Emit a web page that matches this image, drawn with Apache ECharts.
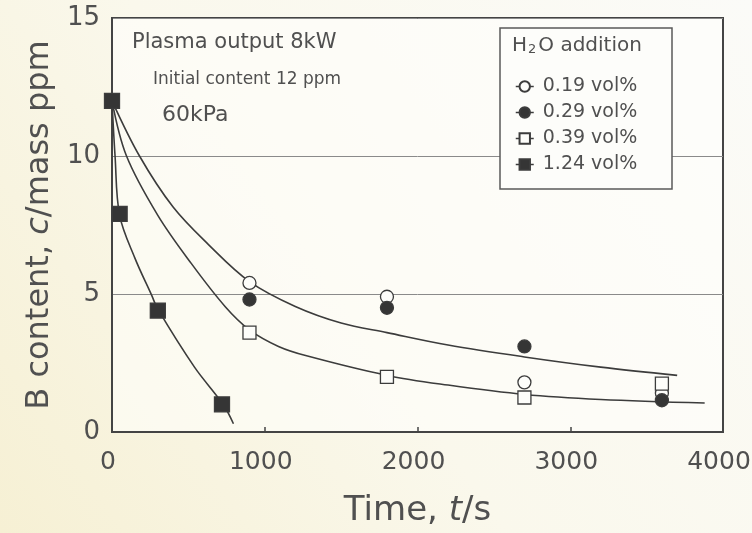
<!DOCTYPE html>
<html>
<head>
<meta charset="utf-8">
<script src="https://cdn.jsdelivr.net/npm/echarts@6/dist/echarts.min.js"></script>
<style>
  html, body { margin: 0; padding: 0; background: #fbf9f1; }
  #chart { width: 752px; height: 533px; }
</style>
</head>
<body>
<div id="chart"></div>
<script>
// Boron content (mass ppm) sampled at fixed times (s)
const sampleTimes = [0, 900, 1800, 2700, 3600];
const boron019 = [12, 5.4, 4.9, 1.8, 1.4];
const boron029 = [12, 4.8, 4.5, 3.1, 1.15];
const boron039 = [12, 3.6, 2.0, 1.25, 1.75];
// The 1.24 vol% run was sampled on its own schedule
const times124 = [0, 50, 300, 720];
const boron124 = [12, 7.9, 4.4, 1.0];

// Trend curves drawn through the data (time s / content ppm)
const slowTrendT = [0, 180, 400, 630, 900, 1200, 1500, 1800, 2200, 2700, 3200, 3700];
const slowTrendC = [12, 10, 8.15, 6.8, 5.45, 4.55, 3.95, 3.6, 3.15, 2.72, 2.35, 2.05];
const midTrendT = [0, 95, 300, 520, 740, 900, 1090, 1280, 1800, 2200, 2700, 3200, 3880];
const midTrendC = [12, 10, 7.85, 6.1, 4.55, 3.7, 3.1, 2.75, 2.05, 1.7, 1.36, 1.18, 1.05];
const fastTrendT = [0, 20, 50, 150, 260, 300, 540, 730, 795];
const fastTrendC = [12, 10, 7.85, 6.3, 4.95, 4.45, 2.35, 0.98, 0.3];

const seriesNames = ['0.19 vol%', '0.29 vol%', '0.39 vol%', '1.24 vol%'];

const FONT = 'DejaVu Sans';
const INK = '#3c3c3c';
const TEXT = '#505050';
const PAPER = '#fdfdfa';

const pairs = (xs, ys) => xs.map((x, i) => [x, ys[i]]);

function trend(xs, ys) {
  return {
    type: 'line',
    data: pairs(xs, ys),
    smooth: 0.35,
    showSymbol: false,
    silent: true,
    z: 2,
    lineStyle: { color: INK, width: 1.6 }
  };
}

function points(name, xs, ys, symbol, size, filled) {
  return {
    name: name,
    type: 'line',
    data: pairs(xs, ys),
    symbol: symbol,
    symbolSize: size,
    showSymbol: true,
    showAllSymbol: true,
    z: 4,
    lineStyle: { width: 0, opacity: 0 },
    itemStyle: {
      color: filled ? '#353535' : PAPER,
      borderColor: INK,
      borderWidth: 1.3,
      opacity: 1
    }
  };
}

const chart = echarts.init(document.getElementById('chart'), null, { renderer: 'canvas' });

chart.setOption({
  animation: false,
  backgroundColor: {
    type: 'linear', x: 0, y: 1, x2: 1, y2: 0,
    colorStops: [
      { offset: 0, color: '#f6f0d4' },
      { offset: 0.45, color: '#faf8ec' },
      { offset: 1, color: '#fbfbf8' }
    ]
  },
  textStyle: { fontFamily: FONT },
  grid: {
    left: 112, right: 29, top: 18, bottom: 101,
    outerBoundsMode: 'none',
    containLabel: false,
    show: true, borderColor: '#444', borderWidth: 2,
    backgroundColor: 'rgba(255,255,253,0.55)'
  },
  xAxis: {
    type: 'value', min: 0, max: 4000, interval: 1000,
    name: '{n|Time, }{i|t}{n|/s}',
    nameLocation: 'middle', nameGap: 62,
    nameTextStyle: {
      rich: {
        n: { fontFamily: FONT, fontSize: 34, color: TEXT },
        i: { fontFamily: FONT, fontSize: 34, color: TEXT, fontStyle: 'italic' }
      }
    },
    axisLine: { lineStyle: { color: '#444', width: 2 } },
    axisTick: { inside: true, length: 5, lineStyle: { color: '#444', width: 1.5 } },
    axisLabel: {
      fontFamily: FONT, fontSize: 25, color: TEXT, margin: 18,
      padding: [0, 8, 0, 0],
      formatter: v => String(v)
    },
    splitLine: { show: false }
  },
  yAxis: {
    type: 'value', min: 0, max: 15, interval: 5,
    name: '{n|B content, }{i|c}{n|/mass ppm}',
    nameLocation: 'middle', nameGap: 54,
    nameTextStyle: {
      rich: {
        n: { fontFamily: FONT, fontSize: 32, color: TEXT },
        i: { fontFamily: FONT, fontSize: 32, color: TEXT, fontStyle: 'italic' }
      }
    },
    axisLine: { lineStyle: { color: '#444', width: 2 } },
    axisTick: { show: false },
    axisLabel: { fontFamily: FONT, fontSize: 26, color: TEXT, margin: 12, formatter: v => String(v) },
    splitLine: { lineStyle: { color: '#8a8a8a', width: 1 } }
  },
  legend: {
    data: seriesNames,
    orient: 'vertical',
    left: 510, top: 72,
    itemGap: 7, itemWidth: 18, itemHeight: 13,
    z: 12,
    textStyle: { fontFamily: FONT, fontSize: 19, color: TEXT, padding: [0, 0, 0, 4] },
    lineStyle: { color: INK, width: 1.5, opacity: 1 },
    selectedMode: false
  },
  graphic: [
    {
      type: 'rect', z: 10,
      shape: { x: 500, y: 28, width: 172, height: 161 },
      style: { fill: PAPER, stroke: '#5a5a5a', lineWidth: 1.5 }
    },
    {
      type: 'text', z: 11, left: 512, top: 36,
      style: {
        text: '{a|H}{s|2}{a|O addition}',
        rich: {
          a: { fontFamily: FONT, fontSize: 20, fill: TEXT, verticalAlign: 'bottom', lineHeight: 24 },
          s: { fontFamily: FONT, fontSize: 13, fill: TEXT, verticalAlign: 'bottom', lineHeight: 20, padding: [0, 2, 0, 1] }
        }
      }
    },
    {
      type: 'text', z: 11, left: 132, top: 32,
      style: { text: 'Plasma output 8kW', font: '21px "DejaVu Sans"', fill: TEXT }
    },
    {
      type: 'text', z: 11, left: 153, top: 71,
      style: { text: 'Initial content 12 ppm', font: '17px "DejaVu Sans"', fill: TEXT }
    },
    {
      type: 'text', z: 11, left: 162, top: 104,
      style: { text: '60kPa', font: '22px "DejaVu Sans"', fill: TEXT }
    }
  ],
  series: [
    trend(slowTrendT, slowTrendC),
    trend(midTrendT, midTrendC),
    trend(fastTrendT, fastTrendC),
    points(seriesNames[0], sampleTimes, boron019, 'circle', 13, false),
    points(seriesNames[1], sampleTimes, boron029, 'circle', 13, true),
    points(seriesNames[2], sampleTimes, boron039, 'rect', 13, false),
    points(seriesNames[3], times124, boron124, 'rect', 15, true)
  ]
});
</script>
</body>
</html>
